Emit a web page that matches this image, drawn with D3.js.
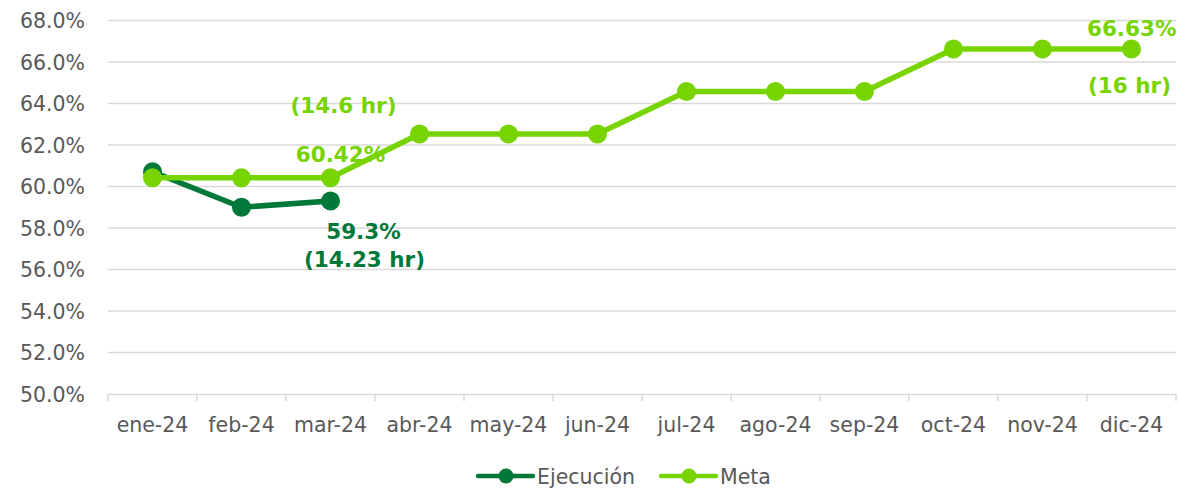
<!DOCTYPE html>
<html><head><meta charset="utf-8">
<script src="https://cdn.jsdelivr.net/npm/d3@7"></script>
<style>body{margin:0;background:#fff}svg{display:block}</style>
</head><body>
<svg id="c" width="1178" height="497"></svg>
<script>
const categories = ["ene-24","feb-24","mar-24","abr-24","may-24","jun-24","jul-24","ago-24","sep-24","oct-24","nov-24","dic-24"];
const ejecucion = [60.71, 59.0, 59.3];
const meta = [60.42, 60.42, 60.42, 62.53, 62.53, 62.53, 64.58, 64.58, 64.58, 66.63, 66.63, 66.63];
const yTicks = [50,52,54,56,58,60,62,64,66,68];
const seriesNames = ["Ejecución","Meta"];
const colors = {"Ejecución":"#00783A","Meta":"#77D400"};

const svg = d3.select("#c");
const font = "'DejaVu Sans', Verdana, sans-serif";
const x = d3.scaleBand().domain(categories).range([108,1176]);
const y = d3.scaleLinear().domain([50,68]).range([394,20.5]);
const cx = c => x(c) + x.bandwidth()/2;

// gridlines
svg.append("g").selectAll("line").data(yTicks.filter(t=>t>50)).join("line")
  .attr("x1",108).attr("x2",1176).attr("y1",d=>y(d)).attr("y2",d=>y(d))
  .attr("stroke","#d9d9d9").attr("stroke-width",1.3);

// y labels
svg.append("g").selectAll("text").data(yTicks).join("text")
  .attr("x",85).attr("y",d=>y(d)+7.5).attr("text-anchor","end")
  .attr("font-family",font).attr("font-size",20.5).attr("fill","#595959")
  .text(d=>d.toFixed(1)+"%");

// x axis
const xa = svg.append("g").attr("transform","translate(0,394)")
  .call(d3.axisBottom(x).tickSize(0).tickPadding(0));
xa.select(".domain").attr("stroke","#d9d9d9").attr("stroke-width",1.5);
xa.selectAll(".tick text").attr("font-family",font).attr("font-size",20.5)
  .attr("fill","#595959").attr("dy",0).attr("y",38);
// tick marks at band boundaries
svg.append("g").selectAll("line").data(categories.concat(["_end"])).join("line")
  .attr("x1",(d,i)=> i<categories.length ? x(d) : x.range()[1])
  .attr("x2",(d,i)=> i<categories.length ? x(d) : x.range()[1])
  .attr("y1",394).attr("y2",401).attr("stroke","#d9d9d9").attr("stroke-width",1.5);

const line = d3.line().x(d=>cx(d.c)).y(d=>y(d.v));
function drawSeries(vals, name){
  const pts = vals.map((v,i)=>({c:categories[i],v}));
  svg.append("path").datum(pts).attr("d",line).attr("fill","none")
    .attr("stroke",colors[name]).attr("stroke-width",5.5).attr("stroke-linejoin","round");
  svg.append("g").selectAll("circle").data(pts).join("circle")
    .attr("cx",d=>cx(d.c)).attr("cy",d=>y(d.v)).attr("r",9.5).attr("fill",colors[name]);
}
drawSeries(ejecucion,"Ejecución");
drawSeries(meta,"Meta");

// data labels
function label(txt, cat, val, dx, dy, color, anchor){
  svg.append("text").attr("x",cx(cat)+dx).attr("y",y(val)+dy)
    .attr("text-anchor",anchor||"middle").attr("font-family",font).attr("font-weight","bold")
    .attr("font-size",21.5).attr("fill",color).text(txt);
}
label("(14.6 hr)", categories[2], meta[2], 13, -65, colors["Meta"]);
label("60.42%", categories[2], meta[2], 10, -16, colors["Meta"]);
label("59.3%", categories[2], ejecucion[2], 33, 38, colors["Ejecución"]);
label("(14.23 hr)", categories[2], ejecucion[2], 34, 66, colors["Ejecución"]);
label("66.63%", categories[11], meta[11], 45, -13, colors["Meta"], "end");
label("(16 hr)", categories[11], meta[11], -2, 44, colors["Meta"]);

// legend
const leg = [{name:"Ejecución",x:478,tx:537},{name:"Meta",x:661,tx:720}];
const lg = svg.append("g").selectAll("g").data(leg).join("g");
lg.append("line").attr("x1",d=>d.x).attr("x2",d=>d.x+55).attr("y1",476).attr("y2",476)
  .attr("stroke",d=>colors[d.name]).attr("stroke-width",4.5).attr("stroke-linecap","round");
lg.append("circle").attr("cx",d=>d.x+28).attr("cy",476).attr("r",7.5).attr("fill",d=>colors[d.name]);
lg.append("text").attr("x",d=>d.tx).attr("y",483.5).attr("font-family",font).attr("font-size",20.5)
  .attr("fill","#595959").text(d=>d.name);
</script>
</body></html>
